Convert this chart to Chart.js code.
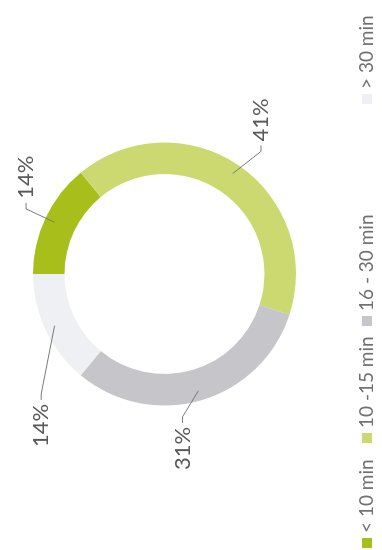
<!DOCTYPE html>
<html>
<head>
<meta charset="utf-8">
<script src="https://cdn.jsdelivr.net/npm/chart.js@4.4.0/dist/chart.umd.min.js"></script>
<style>
    html, body { margin: 0; padding: 0; background: #fff; width: 382px; height: 550px; overflow: hidden; }
    /* the chart is drawn landscape and turned a quarter turn, like the source picture */
    #wrap { position: absolute; left: 0; top: 0; width: 550px; height: 382px;
            transform-origin: 0 0; transform: translate(0, 550px) rotate(-90deg); }
</style>
</head>
<body>
<div id="wrap"><canvas id="timeChart" width="550" height="382"></canvas></div>
<script>
// data
const categories = ['< 10 min', '10 -15 min', '16 - 30 min', '> 30 min'];
const shares = [14, 41, 31, 14];
const sliceColors = ['#a8be1a', '#ccd970', '#c6c6ca', '#eef0f4'];

// label placement (degrees added to the slice middle, distance from centre)
const labelAngleShift = [0, 4, 9, -19];
const labelRadius = [153, 156, 144, 172];
// legend item left edges
const legendX = [2, 107, 224, 446];
const legendY = 367;

const FONT = 'Lato, "Open Sans", sans-serif';

// Draws the outside % labels with their leader lines
const outsideLabels = {
    id: 'outsideLabels',
    afterDatasetsDraw(chart) {
        const ctx = chart.ctx;
        const meta = chart.getDatasetMeta(0);
        ctx.save();
        ctx.strokeStyle = '#7a7a7a';
        ctx.lineWidth = 1;
        ctx.fillStyle = '#595959';
        ctx.font = '22px ' + FONT;
        ctx.textBaseline = 'middle';
        meta.data.forEach((arc, i) => {
            const p = arc.getProps(['x', 'y', 'startAngle', 'endAngle', 'outerRadius'], true);
            const mid = (p.startAngle + p.endAngle) / 2;
            const a = mid + labelAngleShift[i] * Math.PI / 180;
            const r0 = p.outerRadius - 10;
            const sx = p.x + Math.cos(mid) * r0;
            const sy = p.y + Math.sin(mid) * r0;
            const ax = p.x + Math.cos(a) * labelRadius[i];
            const ay = p.y + Math.sin(a) * labelRadius[i];
            const dir = Math.cos(a) >= 0 ? 1 : -1;
            ctx.beginPath();
            ctx.moveTo(sx, sy);
            ctx.lineTo(ax, ay);
            ctx.lineTo(ax + dir * 6, ay);
            ctx.stroke();
            ctx.textAlign = dir > 0 ? 'left' : 'right';
            ctx.fillText(shares[i] + '%', ax + dir * 10, ay);
        });
        ctx.restore();
    }
};

// Simple one-row legend under the ring
const rowLegend = {
    id: 'rowLegend',
    afterDraw(chart) {
        const ctx = chart.ctx;
        ctx.save();
        ctx.font = '19px ' + FONT;
        ctx.textBaseline = 'middle';
        ctx.textAlign = 'left';
        categories.forEach((name, i) => {
            ctx.fillStyle = sliceColors[i];
            ctx.fillRect(legendX[i], legendY - 5, 10, 10);
            ctx.fillStyle = '#707070';
            ctx.fillText(name, legendX[i] + 15, legendY);
        });
        ctx.restore();
    }
};

const ctx = document.getElementById('timeChart').getContext('2d');
const timeChart = new Chart(ctx, {
    type: 'doughnut',
    data: {
        labels: categories,
        datasets: [{
            data: shares,
            backgroundColor: sliceColors,
            borderWidth: 0,
            hoverOffset: 0
        }]
    },
    options: {
        responsive: false,
        animation: false,
        cutout: '76%',
        layout: { padding: { left: 2, right: 0, top: 33, bottom: 86 } },
        plugins: {
            legend: { display: false },
            tooltip: { enabled: false }
        }
    },
    plugins: [outsideLabels, rowLegend]
});
</script>
</body>
</html>
